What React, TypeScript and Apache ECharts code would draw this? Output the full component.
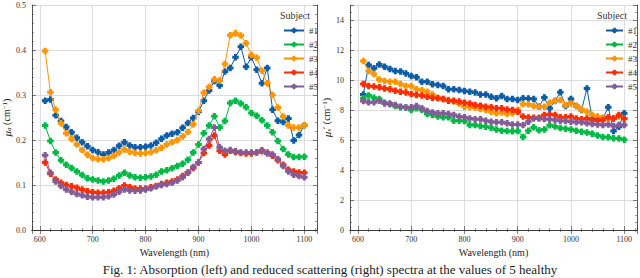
import React, { useEffect, useRef } from "react";
import * as echarts from "echarts";

const wavelengths = [
  610, 620, 630, 640, 650, 660, 670, 680, 690, 700,
  710, 720, 730, 740, 750, 760, 770, 780, 790, 800,
  810, 820, 830, 840, 850, 860, 870, 880, 890, 900,
  910, 920, 930, 940, 950, 960, 970, 980, 990, 1000,
  1010, 1020, 1030, 1040, 1050, 1060, 1070, 1080, 1090, 1100,
];

const subjects = ["#1", "#2", "#3", "#4", "#5"];
const colors = ["#0C5DA5", "#00B945", "#FF9500", "#FF2C00", "#845B97"];

const absS1 = [
  0.287, 0.290, 0.255, 0.242, 0.229, 0.217, 0.205, 0.195, 0.186, 0.178,
  0.173, 0.168, 0.172, 0.178, 0.187, 0.195, 0.188, 0.184, 0.184, 0.185,
  0.188, 0.194, 0.203, 0.210, 0.214, 0.217, 0.227, 0.238, 0.249, 0.263,
  0.287, 0.310, 0.331, 0.321, 0.352, 0.360, 0.384, 0.407, 0.363, 0.384,
  0.356, 0.326, 0.360, 0.267, 0.243, 0.240, 0.248, 0.199, 0.211, 0.233,
];
const absS2 = [
  0.232, 0.198, 0.172, 0.155, 0.145, 0.138, 0.130, 0.122, 0.115, 0.112,
  0.110, 0.108, 0.110, 0.114, 0.121, 0.127, 0.121, 0.117, 0.116, 0.117,
  0.119, 0.123, 0.130, 0.133, 0.137, 0.142, 0.147, 0.156, 0.172, 0.190,
  0.215, 0.232, 0.253, 0.228, 0.242, 0.282, 0.287, 0.281, 0.273, 0.260,
  0.254, 0.244, 0.232, 0.217, 0.198, 0.180, 0.168, 0.162, 0.162, 0.163,
];
const absS3 = [
  0.398, 0.306, 0.267, 0.237, 0.215, 0.202, 0.190, 0.178, 0.167, 0.160,
  0.157, 0.157, 0.160, 0.165, 0.172, 0.179, 0.174, 0.171, 0.170, 0.171,
  0.173, 0.177, 0.183, 0.190, 0.195, 0.200, 0.208, 0.218, 0.235, 0.265,
  0.305, 0.318, 0.335, 0.332, 0.369, 0.433, 0.437, 0.432, 0.415, 0.389,
  0.383, 0.354, 0.326, 0.300, 0.272, 0.252, 0.232, 0.228, 0.228, 0.233,
];
const absS4 = [
  0.150, 0.125, 0.112, 0.105, 0.100, 0.097, 0.094, 0.090, 0.086, 0.084,
  0.083, 0.083, 0.084, 0.087, 0.093, 0.099, 0.095, 0.092, 0.092, 0.092,
  0.095, 0.098, 0.102, 0.105, 0.108, 0.112, 0.120, 0.128, 0.138, 0.150,
  0.171, 0.188, 0.210, 0.176, 0.168, 0.176, 0.173, 0.171, 0.170, 0.170,
  0.172, 0.175, 0.172, 0.165, 0.155, 0.145, 0.134, 0.130, 0.128, 0.127,
];
const absS5 = [
  0.166, 0.127, 0.108, 0.098, 0.090, 0.085, 0.080, 0.077, 0.074, 0.073,
  0.073, 0.073, 0.075, 0.079, 0.085, 0.090, 0.088, 0.087, 0.088, 0.090,
  0.093, 0.097, 0.100, 0.102, 0.105, 0.110, 0.117, 0.127, 0.140, 0.150,
  0.180, 0.202, 0.228, 0.184, 0.176, 0.178, 0.175, 0.172, 0.172, 0.172,
  0.173, 0.177, 0.170, 0.168, 0.158, 0.142, 0.130, 0.123, 0.120, 0.117,
];

const scaS1 = [
  9.04, 11.0, 10.78, 11.04, 10.89, 10.73, 10.6, 10.56, 10.44, 10.27,
  10.18, 9.89, 9.89, 9.71, 9.67, 9.6, 9.38, 9.38, 9.33, 9.27,
  9.22, 9.16, 9.04, 9.04, 8.89, 8.78, 8.93, 8.73, 8.73, 8.67,
  8.78, 8.76, 8.73, 8.22, 8.84, 8.11, 8.6, 9.18, 8.27, 8.73,
  8.27, 8.0, 9.44, 7.38, 7.4, 7.44, 8.18, 6.6, 6.89, 7.78,
];
const scaS2 = [
  8.78, 8.96, 8.82, 8.73, 8.49, 8.38, 8.27, 8.18, 8.16, 8.0,
  8.11, 8.0, 7.73, 7.67, 7.56, 7.51, 7.51, 7.29, 7.29, 7.27,
  7.0, 7.0, 6.93, 6.89, 6.82, 6.7, 6.62, 6.6, 6.58, 6.6,
  6.2, 6.62, 6.85, 6.65, 6.7, 6.98, 6.9, 6.8, 6.75, 6.7,
  6.62, 6.55, 6.5, 6.42, 6.3, 6.2, 6.18, 6.12, 6.1, 6.02,
];
const scaS3 = [
  11.27, 10.6, 10.4, 10.04, 9.93, 9.89, 9.89, 9.73, 9.6, 9.6,
  9.38, 9.33, 9.22, 9.04, 8.82, 8.73, 8.67, 8.56, 8.44, 8.22,
  8.18, 8.16, 8.07, 8.0, 7.89, 7.78, 7.84, 7.73, 7.78, 8.0,
  8.4, 8.38, 8.27, 8.22, 8.22, 8.49, 8.62, 8.67, 8.33, 8.44,
  8.27, 8.04, 7.89, 7.67, 7.56, 7.49, 7.49, 7.44, 7.56, 7.44,
];
const scaS4 = [
  9.73, 9.6, 9.56, 9.51, 9.44, 9.38, 9.29, 9.22, 9.16, 9.07,
  9.0, 8.96, 8.89, 8.82, 8.78, 8.73, 8.62, 8.62, 8.56, 8.49,
  8.44, 8.33, 8.29, 8.22, 8.18, 8.11, 8.11, 8.04, 8.0, 7.89,
  7.56, 7.5, 7.49, 7.49, 7.67, 7.71, 7.67, 7.51, 7.51, 7.56,
  7.44, 7.38, 7.44, 7.33, 7.29, 7.33, 7.51, 7.44, 7.67, 7.44,
];
const scaS5 = [
  8.6, 8.51, 8.51, 8.62, 8.44, 8.44, 8.33, 8.22, 8.16, 8.18,
  8.27, 8.11, 7.93, 7.84, 7.78, 7.78, 7.73, 7.67, 7.56, 7.51,
  7.44, 7.38, 7.38, 7.29, 7.22, 7.18, 7.18, 7.11, 7.04, 7.04,
  7.0, 7.22, 7.44, 7.44, 7.4, 7.38, 7.33, 7.29, 7.27, 7.22,
  7.18, 7.18, 7.11, 7.07, 7.04, 7.0, 7.04, 6.93, 7.0, 7.0,
];

const absorption = [absS1, absS2, absS3, absS4, absS5];
const scattering = [scaS1, scaS2, scaS3, scaS4, scaS5];

const FONT = "Liberation Serif";
const PLUS = "path://M-1.4,-3H1.4V-1.4H3V1.4H1.4V3H-1.4V1.4H-3V-1.4H-1.4Z";

function rt(size: number, extra: any = {}) {
  return { fontFamily: FONT, fontSize: size, color: "#222", ...extra };
}

function xAxisFor(gridIndex: number, top: boolean) {
  return {
    type: "value",
    gridIndex,
    position: top ? "top" : "bottom",
    min: 585,
    max: 1124,
    splitNumber: 5,
    name: top ? "" : "{t|Wavelength (nm)}",
    nameLocation: "middle",
    nameGap: 13,
    nameTextStyle: { fontFamily: FONT, fontSize: 10, color: "#222", rich: { t: rt(10) } },
    axisLine: { show: true, lineStyle: { color: "#333", width: 0.8 } },
    axisTick: { show: true, inside: true, length: 4, lineStyle: { color: "#333", width: 0.6 } },
    minorTick: { show: true, splitNumber: 5, length: 2, lineStyle: { color: "#333", width: 0.5 } },
    axisLabel: {
      show: !top,
      margin: 5,
      fontFamily: FONT,
      fontSize: 8,
      color: "#333",
      showMinLabel: false,
      showMaxLabel: false,
      rich: { t: rt(8, { color: "#333" }) },
      formatter: (v: number) => (v % 100 === 0 ? `{t|${v}}` : ""),
    },
    splitLine: { show: !top, lineStyle: { color: "#d4d4d4", width: 0.8 } },
  };
}

function yAxisFor(gridIndex: number, right: boolean) {
  const isAbs = gridIndex === 0;
  return {
    type: "value",
    gridIndex,
    position: right ? "right" : "left",
    min: 0,
    max: isAbs ? 0.5 : 15,
    interval: isAbs ? 0.1 : 2,
    name: right
      ? ""
      : isAbs
      ? "{i|μ}{s|a}{n| (cm}{p|−1}{n|)}"
      : "{i|μ}{s|s}{n|′ (cm}{p|−1}{n|)}",
    nameLocation: "middle",
    nameGap: isAbs ? 13 : 12,
    nameTextStyle: {
      fontFamily: FONT,
      fontSize: 10,
      color: "#222",
      rich: {
        i: rt(11, { fontStyle: "italic" }),
        s: rt(7, { fontStyle: "italic", verticalAlign: "bottom", padding: [4, 0, 0, 0] }),
        n: rt(10),
        p: rt(7, { verticalAlign: "top", padding: [0, 0, 4, 0] }),
      },
    },
    axisLine: { show: true, lineStyle: { color: "#333", width: 0.8 } },
    axisTick: { show: true, inside: true, length: 4, lineStyle: { color: "#333", width: 0.6 } },
    minorTick: { show: true, splitNumber: isAbs ? 5 : 4, length: 2, lineStyle: { color: "#333", width: 0.5 } },
    axisLabel: {
      show: !right,
      margin: 6,
      fontFamily: FONT,
      fontSize: 8,
      color: "#333",
      rich: { t: rt(8, { color: "#333" }) },
      formatter: (v: number) =>
        isAbs ? `{t|${v.toFixed(1)}}` : v % 2 === 0 ? `{t|${v}}` : "",
    },
    splitLine: { show: !right, lineStyle: { color: "#d4d4d4", width: 0.8 } },
  };
}

export default function App() {
  const ref = useRef<HTMLDivElement>(null);
  useEffect(() => {
    if (!ref.current) return;
    const chart = echarts.init(ref.current, null, { renderer: "svg" });
    const series: any[] = [];
    [absorption, scattering].forEach((group, g) => {
      group.forEach((vals, k) => {
        series.push({
          type: "line",
          name: subjects[k],
          xAxisIndex: g * 2,
          yAxisIndex: g * 2,
          data: wavelengths.map((w, i) => [w, vals[i]]),
          symbol: PLUS,
          symbolSize: 6.5,
          showSymbol: true,
          lineStyle: { color: colors[k], width: 1 },
          itemStyle: { color: colors[k] },
          z: 3 + k,
        });
      });
    });
    const legendCommon = {
      orient: "vertical",
      top: 21,
      itemWidth: 20,
      itemHeight: 7,
      itemGap: 5,
      data: subjects,
      formatter: (name: string) => `{t|${name}}`,
      textStyle: {
        fontFamily: FONT,
        fontSize: 9,
        color: "#333",
        lineHeight: 7,
        rich: { t: rt(9, { color: "#333", lineHeight: 7 }) },
      },
    };
    chart.setOption({
      animation: false,
      backgroundColor: "#ffffff",
      textStyle: { fontFamily: FONT },
      grid: [
        { left: 29, top: 5, width: 288, height: 225 },
        { left: 350, top: 5, width: 287, height: 225 },
      ],
      xAxis: [xAxisFor(0, false), xAxisFor(0, true), xAxisFor(1, false), xAxisFor(1, true)],
      yAxis: [yAxisFor(0, false), yAxisFor(0, true), yAxisFor(1, false), yAxisFor(1, true)],
      legend: [
        { ...legendCommon, left: 278 },
        { ...legendCommon, left: 600, itemWidth: 17 },
      ],
      graphic: [
        {
          type: "text",
          x: 295,
          y: 15,
          style: { text: "Subject", font: `10px '${FONT}'`, fill: "#333", textAlign: "center", textVerticalAlign: "middle" },
        },
        {
          type: "text",
          x: 612,
          y: 15,
          style: { text: "Subject", font: `10px '${FONT}'`, fill: "#333", textAlign: "center", textVerticalAlign: "middle" },
        },
        {
          type: "text",
          x: 330,
          y: 263,
          style: {
            text: "Fig. 1: Absorption (left) and reduced scattering (right) spectra at the values of 5 healthy",
            font: `13px '${FONT}'`,
            fill: "#222",
            textAlign: "center",
            textVerticalAlign: "top",
          },
        },
      ],
      series,
    });
    return () => chart.dispose();
  }, []);
  return (
    <div
      ref={ref}
      style={{ position: "fixed", left: 0, top: 0, width: 640, height: 278, background: "#fff" }}
    />
  );
}
